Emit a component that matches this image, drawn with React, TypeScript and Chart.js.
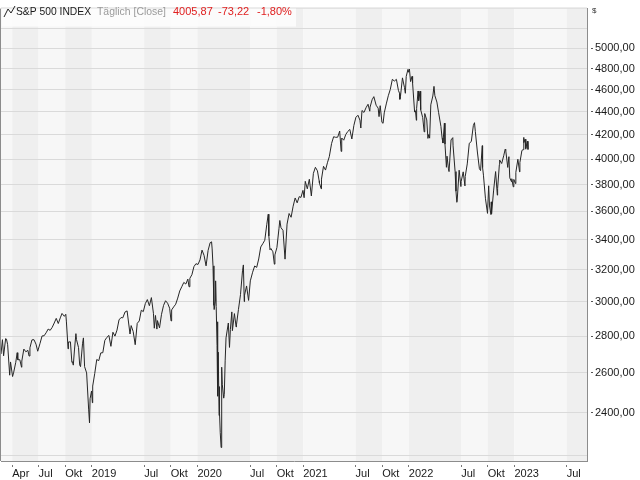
import React, { useEffect, useRef } from "react";
import { Chart, registerables } from "chart.js";

Chart.register(...registerables);

// ---- data (S&P 500 daily close, sampled) ----
const DATES: string[] = [
  "2018-02-21","2018-02-26","2018-03-02","2018-03-09","2018-03-12","2018-03-16","2018-03-23","2018-03-26","2018-04-02","2018-04-06",
  "2018-04-13","2018-04-18","2018-04-20","2018-04-27","2018-05-03","2018-05-04","2018-05-11","2018-05-18","2018-05-25","2018-05-29",
  "2018-06-01","2018-06-08","2018-06-15","2018-06-22","2018-06-28","2018-07-06","2018-07-13","2018-07-20","2018-07-27","2018-08-03",
  "2018-08-10","2018-08-17","2018-08-24","2018-08-31","2018-09-07","2018-09-14","2018-09-20","2018-09-28","2018-10-03","2018-10-05",
  "2018-10-11","2018-10-12","2018-10-19","2018-10-24","2018-10-26","2018-10-29","2018-11-02","2018-11-07","2018-11-09","2018-11-16",
  "2018-11-20","2018-11-23","2018-11-30","2018-12-03","2018-12-07","2018-12-14","2018-12-21","2018-12-24","2018-12-26","2018-12-31",
  "2019-01-03","2019-01-04","2019-01-11","2019-01-18","2019-01-25","2019-02-01","2019-02-08","2019-02-15","2019-02-22","2019-03-01",
  "2019-03-08","2019-03-15","2019-03-22","2019-03-29","2019-04-05","2019-04-12","2019-04-18","2019-04-26","2019-05-03","2019-05-13",
  "2019-05-17","2019-05-24","2019-05-31","2019-06-07","2019-06-14","2019-06-21","2019-06-28","2019-07-05","2019-07-12","2019-07-19",
  "2019-07-26","2019-08-02","2019-08-05","2019-08-09","2019-08-14","2019-08-16","2019-08-23","2019-08-30","2019-09-06","2019-09-13",
  "2019-09-20","2019-09-27","2019-10-02","2019-10-04","2019-10-11","2019-10-18","2019-10-25","2019-11-01","2019-11-08","2019-11-15",
  "2019-11-22","2019-11-29","2019-12-03","2019-12-06","2019-12-13","2019-12-20","2019-12-27",
  "2020-01-03","2020-01-10","2020-01-17","2020-01-24","2020-01-31","2020-02-07","2020-02-14","2020-02-19","2020-02-21","2020-02-24",
  "2020-02-27","2020-02-28","2020-03-03","2020-03-04","2020-03-06","2020-03-09","2020-03-10","2020-03-12","2020-03-13","2020-03-16",
  "2020-03-17","2020-03-18","2020-03-20","2020-03-23","2020-03-24","2020-03-26","2020-03-27","2020-04-01","2020-04-03","2020-04-06",
  "2020-04-09","2020-04-17","2020-04-21","2020-04-24","2020-04-29","2020-05-01","2020-05-08","2020-05-14","2020-05-15","2020-05-22",
  "2020-05-29","2020-06-05","2020-06-08","2020-06-11","2020-06-12","2020-06-19","2020-06-26","2020-07-02","2020-07-10","2020-07-17",
  "2020-07-24","2020-07-31","2020-08-07","2020-08-14","2020-08-21","2020-08-28","2020-09-02","2020-09-04","2020-09-08","2020-09-11",
  "2020-09-18","2020-09-23","2020-09-25","2020-10-02","2020-10-09","2020-10-12","2020-10-16","2020-10-23","2020-10-30","2020-11-06",
  "2020-11-13","2020-11-20","2020-11-27","2020-12-04","2020-12-11","2020-12-18","2020-12-24","2020-12-31",
  "2021-01-04","2021-01-08","2021-01-15","2021-01-22","2021-01-27","2021-01-29","2021-02-05","2021-02-12","2021-02-19","2021-02-25",
  "2021-02-26","2021-03-04","2021-03-05","2021-03-12","2021-03-19","2021-03-26","2021-04-01","2021-04-09","2021-04-16","2021-04-23",
  "2021-04-30","2021-05-07","2021-05-12","2021-05-14","2021-05-21","2021-05-28","2021-06-04","2021-06-11","2021-06-18","2021-06-25",
  "2021-07-02","2021-07-09","2021-07-16","2021-07-19","2021-07-23","2021-07-30","2021-08-06","2021-08-13","2021-08-19","2021-08-20",
  "2021-08-27","2021-09-02","2021-09-10","2021-09-17","2021-09-20","2021-09-24","2021-09-30","2021-10-04","2021-10-08","2021-10-15",
  "2021-10-22","2021-10-29","2021-11-05","2021-11-12","2021-11-19","2021-11-26","2021-11-30","2021-12-01","2021-12-03","2021-12-10",
  "2021-12-17","2021-12-20","2021-12-23","2021-12-29","2021-12-31",
  "2022-01-03","2022-01-07","2022-01-12","2022-01-14","2022-01-21","2022-01-24","2022-01-27","2022-01-28","2022-02-02","2022-02-04",
  "2022-02-09","2022-02-11","2022-02-18","2022-02-23","2022-02-25","2022-03-04","2022-03-08","2022-03-11","2022-03-14","2022-03-18",
  "2022-03-25","2022-03-29","2022-04-01","2022-04-08","2022-04-14","2022-04-22","2022-04-26","2022-04-29","2022-05-04","2022-05-06",
  "2022-05-11","2022-05-13","2022-05-18","2022-05-20","2022-05-27","2022-06-02","2022-06-03","2022-06-10","2022-06-13","2022-06-16",
  "2022-06-17","2022-06-24","2022-06-30","2022-07-01","2022-07-08","2022-07-14","2022-07-15","2022-07-22","2022-07-29","2022-08-05",
  "2022-08-12","2022-08-16","2022-08-19","2022-08-26","2022-09-02","2022-09-06","2022-09-12","2022-09-13","2022-09-16","2022-09-23",
  "2022-09-30","2022-10-04","2022-10-07","2022-10-12","2022-10-13","2022-10-14","2022-10-21","2022-10-28","2022-11-03","2022-11-04",
  "2022-11-10","2022-11-11","2022-11-18","2022-11-25","2022-11-30","2022-12-02","2022-12-09","2022-12-13","2022-12-16","2022-12-22",
  "2022-12-23","2022-12-28","2022-12-30",
  "2023-01-05","2023-01-06","2023-01-13","2023-01-19","2023-01-20","2023-01-27","2023-01-31","2023-02-02","2023-02-03","2023-02-07",
  "2023-02-09","2023-02-10","2023-02-15","2023-02-17"
];

const CLOSE: number[] = [
  2701,2780,2691,2786,2783,2752,2588,2658,2581,2604,
  2656,2708,2670,2670,2630,2663,2728,2713,2721,2690,
  2735,2779,2780,2755,2716,2760,2801,2802,2819,2840,
  2833,2850,2875,2902,2872,2905,2931,2914,2926,2886,
  2729,2767,2768,2656,2659,2641,2723,2814,2781,2736,
  2642,2633,2760,2790,2633,2600,2417,2351,2468,2507,
  2448,2532,2596,2671,2665,2707,2708,2776,2793,2804,
  2743,2822,2800,2834,2893,2907,2905,2940,2946,2812,
  2860,2826,2752,2873,2887,2950,2942,2990,3014,2977,
  3026,2932,2845,2919,2840,2889,2847,2926,2979,3007,
  2992,2962,2887,2952,2970,2986,3023,3067,3093,3120,
  3110,3141,3093,3146,3169,3221,3240,
  3235,3265,3330,3295,3226,3328,3380,3386,3338,3226,
  2979,2954,3003,3130,2972,2747,2882,2481,2711,2386,
  2529,2398,2305,2237,2447,2630,2541,2471,2489,2664,
  2790,2875,2737,2837,2940,2831,2930,2852,2864,2955,
  3044,3194,3232,3002,3041,3098,3009,3130,3185,3225,
  3216,3271,3351,3373,3397,3508,3580,3427,3332,3341,
  3319,3237,3298,3348,3477,3535,3484,3465,3270,3509,
  3585,3558,3638,3699,3663,3709,3703,3756,
  3701,3825,3768,3841,3751,3714,3887,3935,3907,3829,
  3811,3768,3842,3943,3913,3975,4020,4129,4185,4180,
  4181,4233,4063,4174,4156,4204,4230,4247,4166,4281,
  4352,4370,4327,4259,4412,4395,4437,4468,4406,4442,
  4509,4537,4459,4433,4358,4455,4308,4300,4391,4471,
  4545,4605,4698,4682,4698,4595,4567,4513,4538,4712,
  4620,4568,4726,4793,4766,
  4797,4677,4726,4663,4398,4410,4326,4432,4589,4501,
  4587,4419,4349,4226,4385,4329,4171,4204,4173,4463,
  4543,4632,4546,4488,4393,4272,4175,4132,4301,4123,
  3935,4024,3923,3901,4158,4177,4109,3901,3750,3667,
  3675,3912,3785,3825,3899,3790,3863,3962,4130,4145,
  4280,4305,4228,4058,3924,3909,4110,3933,3873,3693,
  3586,3791,3640,3577,3670,3583,3752,3901,3720,3771,
  3956,3993,3965,4027,4080,4072,3934,4020,3852,3822,
  3845,3783,3840,
  3808,3895,3999,3899,3973,4071,4077,4179,4136,4164,
  4081,4090,4147,4079
];

const X_TICK_DATES: string[] = [
  "2018-04-01","2018-07-01","2018-10-01","2019-01-01","2019-07-01","2019-10-01",
  "2020-01-01","2020-07-01","2020-10-01","2021-01-01","2021-07-01","2021-10-01",
  "2022-01-01","2022-07-01","2022-10-01","2023-01-01","2023-07-01"
];
const MONTH_NAMES: string[] = ["Jan","Feb","Mär","Apr","Mai","Jun","Jul","Aug","Sep","Okt","Nov","Dez"];
const X_MIN_DATE = "2018-02-21";
const X_MAX_DATE = "2023-09-09";

const Y_GRID: number[] = [2200,2400,2600,2800,3000,3200,3400,3600,3800,4000,4200,4400,4600,4800,5000,5200];
const Y_LABEL_MIN = 2400;
const Y_LABEL_MAX = 5000;
const Y_MIN = 2177;
const Y_MAX = 5418;

const TITLE = "S&P 500 INDEX";
const SUBTITLE = "Täglich [Close]";
const QUOTE = ["4005,87", "-73,22", "-1,80%"];
const CURRENCY = "$";

const FONT = "'Liberation Sans', Arial, sans-serif";

const day = (s: string) => Date.parse(s + "T00:00:00Z") / 86400000;

const fmtY = (v: number) => v.toFixed(2).replace(".", ",");

const xLabel = (v: number) => {
  const d = new Date(v * 86400000);
  const m = d.getUTCMonth();
  return m === 0 ? String(d.getUTCFullYear()) : MONTH_NAMES[m];
};

const bandsPlugin = {
  id: "bands",
  beforeDraw(chart: any) {
    const { ctx, chartArea } = chart;
    const xs = chart.scales.x;
    const bounds = [xs.min, ...X_TICK_DATES.map(day), xs.max];
    ctx.save();
    for (let i = 0; i < bounds.length - 1; i++) {
      const a = Math.max(chartArea.left, xs.getPixelForValue(bounds[i]));
      const b = Math.min(chartArea.right, xs.getPixelForValue(bounds[i + 1]));
      ctx.fillStyle = i % 2 === 0 ? "#f7f7f7" : "#efefef";
      ctx.fillRect(a, chartArea.top, b - a, chartArea.bottom - chartArea.top);
    }
    ctx.restore();
  },
  afterDraw(chart: any) {
    const { ctx, chartArea } = chart;
    ctx.save();
    // frame left / top
    ctx.strokeStyle = "#8c8c8c";
    ctx.lineWidth = 1;
    ctx.beginPath();
    ctx.moveTo(chartArea.left - 0.5, chartArea.top);
    ctx.lineTo(chartArea.left - 0.5, chartArea.bottom);
    ctx.stroke();
    ctx.strokeStyle = "#d0d0d0";
    ctx.beginPath();
    ctx.moveTo(chartArea.left, chartArea.top - 0.5);
    ctx.lineTo(chartArea.right, chartArea.top - 0.5);
    ctx.stroke();

    // legend box
    ctx.fillStyle = "rgba(252,252,252,0.92)";
    ctx.fillRect(chartArea.left + 1, chartArea.top, 294, 18);
    // icon
    ctx.strokeStyle = "#222";
    ctx.lineWidth = 1;
    ctx.beginPath();
    ctx.moveTo(4, 17);
    ctx.lineTo(8, 9);
    ctx.lineTo(11, 13);
    ctx.lineTo(15, 6);
    ctx.stroke();

    ctx.font = "11px " + FONT;
    ctx.textBaseline = "alphabetic";
    ctx.textAlign = "left";
    ctx.fillStyle = "#1a1a1a";
    ctx.fillText(TITLE, 16, 15, 75);
    ctx.fillStyle = "#9a9a9a";
    ctx.fillText(SUBTITLE, 97, 15, 69);
    ctx.fillStyle = "#e02020";
    const qx = [173, 218, 257];
    QUOTE.forEach((q, i) => ctx.fillText(q, qx[i], 15));

    // currency label
    ctx.font = "8px " + FONT;
    ctx.fillStyle = "#333";
    ctx.fillText(CURRENCY, chartArea.right + 5, 13);
    ctx.restore();
  },
};

export default function App() {
  const ref = useRef<HTMLCanvasElement | null>(null);

  useEffect(() => {
    if (!ref.current) return;
    const data = DATES.map((d, i) => ({ x: day(d), y: CLOSE[i] }));
    const chart = new Chart(ref.current, {
      type: "line",
      data: {
        datasets: [
          {
            data,
            borderColor: "#262626",
            borderWidth: 1,
            pointRadius: 0,
            tension: 0,
            fill: false,
          },
        ],
      },
      options: {
        animation: false,
        responsive: true,
        maintainAspectRatio: false,
        layout: { padding: { left: 1, top: 3, right: 0, bottom: 0 } },
        plugins: { legend: { display: false }, tooltip: { enabled: false } },
        scales: {
          x: {
            type: "linear",
            min: day(X_MIN_DATE),
            max: day(X_MAX_DATE),
            afterBuildTicks: (s: any) => {
              s.ticks = X_TICK_DATES.map((d) => ({ value: day(d) }));
            },
            afterFit: (s: any) => {
              s.height = 19;
            },
            grid: {
              drawOnChartArea: false,
              drawTicks: true,
              tickLength: 6,
              tickColor: "#777",
              tickBorderDash: [3, 3],
              tickBorderDashOffset: 3,
            },
            border: { display: true, color: "#8c8c8c", width: 1 },
            ticks: {
              autoSkip: false,
              maxRotation: 0,
              align: "start",
              padding: 0,
              color: "#1a1a1a",
              font: { family: FONT, size: 11 },
              callback: (v: any) => xLabel(Number(v)),
            },
          },
          y: {
            type: "logarithmic",
            position: "right",
            min: Y_MIN,
            max: Y_MAX,
            afterBuildTicks: (s: any) => {
              s.ticks = Y_GRID.map((v) => ({ value: v }));
            },
            afterFit: (s: any) => {
              s.width = 53;
            },
            grid: {
              color: "#dadada",
              lineWidth: 1,
              drawTicks: true,
              tickLength: 6,
              tickColor: (c: any) =>
                c.tick && c.tick.value >= Y_LABEL_MIN && c.tick.value <= Y_LABEL_MAX
                  ? "#555"
                  : "rgba(0,0,0,0)",
              tickBorderDash: [3, 3],
              tickBorderDashOffset: 3,
            },
            border: { display: true, color: "#8c8c8c", width: 1 },
            ticks: {
              autoSkip: false,
              padding: 2,
              color: "#1a1a1a",
              font: { family: FONT, size: 11 },
              callback: (v: any) => {
                const n = Number(v);
                return n >= Y_LABEL_MIN && n <= Y_LABEL_MAX ? fmtY(n) : "";
              },
            },
          },
        },
      },
      plugins: [bandsPlugin],
    });
    return () => chart.destroy();
  }, []);

  return (
    <div style={{ position: "fixed", left: 0, top: 0, width: 640, height: 480, background: "#fff" }}>
      <canvas ref={ref} />
    </div>
  );
}
